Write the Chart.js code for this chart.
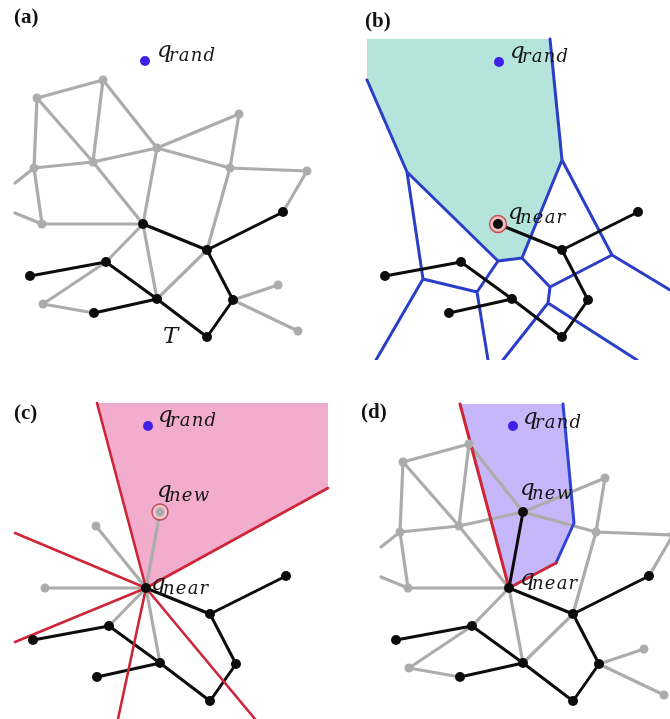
<!DOCTYPE html>
<html>
<head>
<meta charset="utf-8">
<script src="https://cdn.jsdelivr.net/npm/chart.js@4.4.1/dist/chart.umd.min.js"></script>
<style>
  html, body { margin: 0; padding: 0; background: #fff; }
  #wrap { position: relative; width: 670px; height: 719px; }
  #wrap canvas { position: absolute; }
  .tag { position: absolute; font: bold 21px "Liberation Serif", serif; line-height: 21px; color: #111; }
</style>
</head>
<body>
<div id="wrap">
  <canvas id="pa" width="335" height="360" style="left:0;top:0"></canvas>
  <canvas id="pb" width="335" height="360" style="left:335px;top:0"></canvas>
  <canvas id="pc" width="335" height="359" style="left:0;top:360px"></canvas>
  <canvas id="pd" width="335" height="359" style="left:335px;top:360px"></canvas>
  <div class="tag" style="left:14px;top:6px">(a)</div>
  <div class="tag" style="left:365px;top:10px">(b)</div>
  <div class="tag" style="left:14px;top:402px">(c)</div>
  <div class="tag" style="left:361px;top:401px">(d)</div>
</div>
<script>
// tree + roadmap nodes (0-8 tree T, 9-20 other samples, 21-22 where edges leave the frame)
const nodeX = [143, 283, 207, 106, 30, 157, 233, 94, 207, 103, 37, 239, 157, 93, 34, 230, 307, 42, 278, 43, 298, 15, 15];
const nodeY = [224, 212, 250, 262, 276, 299, 300, 313, 337, 80, 98, 114, 148, 162, 168, 168, 171, 224, 285, 304, 331, 183, 213];
const treeNodes = [0, 1, 2, 3, 4, 5, 6, 7, 8];
const otherNodes = [9, 10, 11, 12, 13, 14, 15, 16, 17, 18, 19, 20];
const treeEdges = [[0,2],[2,1],[2,6],[6,8],[8,5],[5,3],[3,4],[5,7]];
const graphEdges = [[10,9],[10,14],[10,13],[13,0],[9,13],[9,12],[14,13],[13,12],[12,11],[12,15],[11,15],[15,16],[16,1],
  [14,17],[17,0],[14,21],[17,22],[12,0],[0,5],[0,3],[3,19],[19,7],[15,2],[5,2],[6,18],[6,20]];
const qNear = 0;
const qNew = 12;
const qRand = [145, 61];

// (b) Voronoi diagram of the tree
const vorX = [12, 52, 143, 167, 195, 207, 257, 315, 195, 193, 148, 282, 122, 68, 133, 21];
const vorY = [80, 172, 261, 258, 39, 160, 255, 290, 287, 303, 360, 360, 292, 279, 360, 360];
const vorEdges = [[0,1],[1,2],[4,5],[5,3],[2,3],[5,6],[6,7],[6,8],[3,8],[8,9],[9,10],[9,11],[2,12],[12,13],[12,14],[1,13],[13,15]];
const cellX = [12, 195, 207, 167, 143, 52, 12];
const cellY = [39, 39, 160, 258, 261, 172, 80];

// (c) rays through q_near and the admissible cone
const rayX = [94, 325, 12, 12, 115, 252];
const rayY = [39, 124, 169, 278, 355, 355];
const coneX = [143, 94, 325, 325];
const coneY = [224, 39, 39, 124];
const nearEdges = [[0,13],[0,17],[0,3],[0,5],[0,12]];

// (d) new cell of q_new
const newCellX = [94, 197, 208, 190, 143];
const newCellY = [40, 40, 159, 199, 224];
const redPath = [[94,40],[143,224],[190,199]];
const bluePath = [[197,40],[208,159],[190,199]];

// labels [x, y, symbol, subscript]
const labelsA = [[157, 57, 'q', 'rand'], [163, 343, 'T', '']];
const labelsB = [[155, 58, 'q', 'rand'], [153, 219, 'q', 'near']];
const labelsC = [[155, 58, 'q', 'rand'], [154, 133, 'q', 'new'], [148, 226, 'q', 'near']];
const labelsD = [[157, 60, 'q', 'rand'], [154, 131, 'q', 'new'], [154, 221, 'q', 'near']];

const GRAY = 'rgb(172,172,172)';
const BLACK = 'rgb(12,12,12)';
const VBLUE = 'rgb(42,62,200)';
const RED = 'rgb(205,38,56)';
const DOT = 'rgb(62,32,232)';

function pts(ids) {
  return ids.map(i => ({x: nodeX[i], y: nodeY[i]}));
}
function segs(list, X, Y) {
  const d = [];
  list.forEach(([i, j]) => {
    d.push({x: X[i], y: Y[i]}, {x: X[j], y: Y[j]}, {x: null, y: null});
  });
  return d;
}
function path(p) {
  return p.map(q => ({x: q[0], y: q[1]}));
}
function poly(X, Y) {
  const d = X.map((x, i) => ({x: x, y: Y[i]}));
  d.push(d[0]);
  return d;
}
function lineSet(data, color, w, order) {
  return {data, showLine: true, borderColor: color, borderWidth: w, pointRadius: 0,
    borderCapStyle: 'round', borderJoinStyle: 'round', order, clip: false};
}
function dotSet(data, color, r, order) {
  return {data, showLine: false, pointRadius: r, backgroundColor: color, borderWidth: 0, order};
}
function areaSet(data, color) {
  return {data, showLine: true, borderWidth: 0, pointRadius: 0, fill: 'shape', backgroundColor: color, order: 10};
}

function notes(items) {
  return {
    id: 'notes',
    afterDatasetsDraw(chart) {
      const ctx = chart.ctx, sx = chart.scales.x, sy = chart.scales.y;
      ctx.save();
      ctx.fillStyle = '#161616';
      items.forEach(n => {
        const x = sx.getPixelForValue(n[0]), y = sy.getPixelForValue(n[1]);
        ctx.font = 'italic 23px "DejaVu Serif"';
        ctx.letterSpacing = '0px';
        ctx.fillText(n[2], x, y);
        if (n[3]) {
          ctx.font = 'italic 18px "DejaVu Serif"';
          ctx.letterSpacing = '1.2px';
          ctx.fillText(n[3], x + 12, y + 4);
        }
      });
      ctx.restore();
    }
  };
}

function panel(id, xr, yr, datasets, items) {
  return new Chart(document.getElementById(id), {
    type: 'scatter',
    data: {datasets},
    options: {
      responsive: false,
      animation: false,
      events: [],
      layout: {padding: 0, autoPadding: false},
      plugins: {legend: {display: false}, tooltip: {enabled: false}},
      scales: {
        x: {type: 'linear', display: false, min: xr[0], max: xr[1]},
        y: {type: 'linear', display: false, min: yr[0], max: yr[1], reverse: true}
      }
    },
    plugins: [notes(items)]
  });
}

// (a) roadmap and tree
panel('pa', [0, 335], [0, 360], [
  lineSet(segs(graphEdges, nodeX, nodeY), GRAY, 3.2, 5),
  lineSet(segs(treeEdges, nodeX, nodeY), BLACK, 3, 4),
  dotSet(pts(otherNodes), GRAY, 4.5, 2),
  dotSet(pts(treeNodes), BLACK, 5, 1),
  dotSet([{x: qRand[0], y: qRand[1]}], DOT, 5, 0)
], labelsA);

// (b) Voronoi cells
panel('pb', [-20, 315], [0, 360], [
  areaSet(poly(cellX, cellY), 'rgb(180,228,219)'),
  lineSet(segs(vorEdges, vorX, vorY), VBLUE, 3, 5),
  lineSet(segs(treeEdges, nodeX, nodeY), BLACK, 3, 4),
  {data: pts([qNear]), showLine: false, pointRadius: 8.5, backgroundColor: 'rgb(238,190,190)',
    borderColor: 'rgb(200,70,70)', borderWidth: 1.3, order: 2},
  dotSet(pts(treeNodes), BLACK, 5, 1),
  dotSet([{x: qRand[0] - 1, y: qRand[1] + 1}], DOT, 5, 0)
], labelsB);

// (c) cone at q_near
panel('pc', [-3, 332], [-4, 355], [
  areaSet(poly(coneX, coneY), 'rgb(241,172,206)'),
  lineSet(segs(nearEdges, nodeX, nodeY), GRAY, 3.2, 6),
  lineSet(segs(treeEdges, nodeX, nodeY), BLACK, 3, 5),
  lineSet(rayX.flatMap((x, i) => [{x: nodeX[qNear], y: nodeY[qNear]}, {x, y: rayY[i]}, {x: null, y: null}]), RED, 2.6, 4),
  {data: pts([qNew]), showLine: false, pointRadius: 8, backgroundColor: 'rgba(245,215,215,0.6)',
    borderColor: 'rgb(195,70,80)', borderWidth: 1.4, order: 3},
  dotSet(pts([13, 17, qNew]), GRAY, 4.5, 2),
  dotSet(pts(treeNodes), BLACK, 5, 1),
  dotSet([{x: qRand[0], y: qRand[1] + 1}], DOT, 5, 0)
], labelsC);

// (d) tree extended to q_new
panel('pd', [-31, 304], [-4, 355], [
  areaSet(poly(newCellX, newCellY), 'rgb(198,183,250)'),
  lineSet(segs(graphEdges.filter(e => !(e[0] === qNew && e[1] === qNear)), nodeX, nodeY), GRAY, 3.2, 6),
  lineSet(path(redPath), RED, 3, 5),
  lineSet(path(bluePath), 'rgb(48,68,212)', 3, 5),
  lineSet(segs(treeEdges.concat([[qNear, qNew]]), nodeX, nodeY), BLACK, 3, 4),
  dotSet(pts(otherNodes.filter(i => i !== qNew)), GRAY, 4.5, 2),
  dotSet(pts(treeNodes.concat([qNew])), BLACK, 5, 1),
  dotSet([{x: qRand[0] + 2, y: qRand[1] + 1}], DOT, 5, 0)
], labelsD);
</script>
</body>
</html>
